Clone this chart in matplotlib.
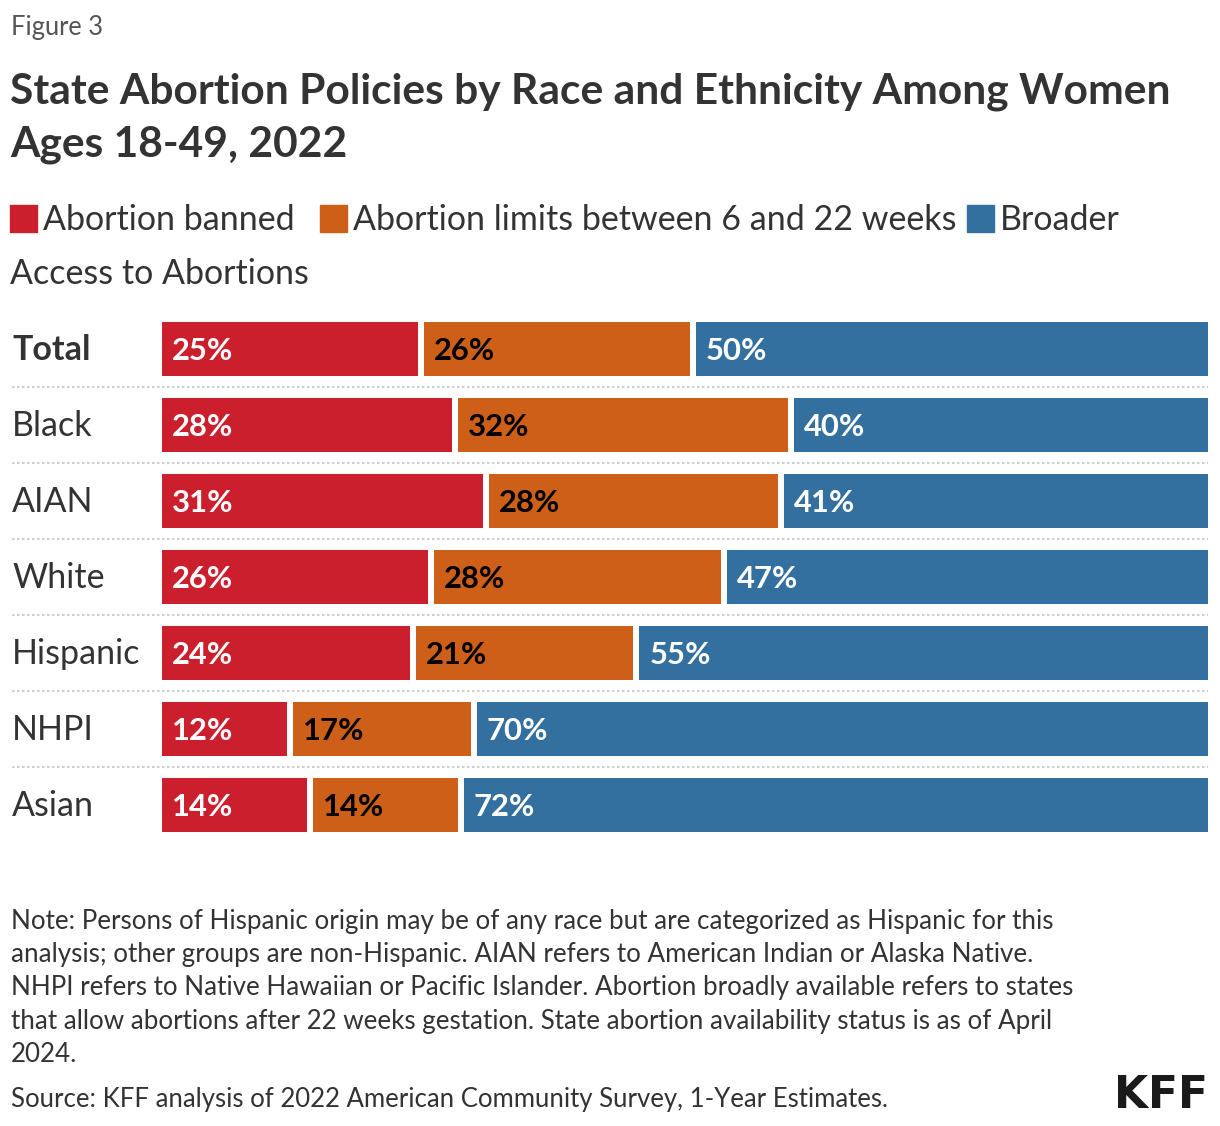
import matplotlib.pyplot as plt

plt.rcParams['font.family'] = ['Lato', 'DejaVu Sans']

groups = ['Total', 'Black', 'AIAN', 'White', 'Hispanic', 'NHPI', 'Asian']
banned = [25, 28, 31, 26, 24, 12, 14]
limits = [26, 32, 28, 28, 21, 17, 14]
broader = [50, 40, 41, 47, 55, 70, 72]

legend_labels = ['Abortion banned', 'Abortion limits between 6 and 22 weeks', 'Broader']
colors = ['#cc1f2e', '#cd5f19', '#34709f']
label_colors = ['white', 'black', 'white']

W, H = 1220, 1126
fig = plt.figure(figsize=(W / 100, H / 100), dpi=100)

def fx(px):
    return px / W

def fy(py):
    return 1 - py / H

def pt(px):
    return px * 0.72

grey = '#333333'

# header
fig.text(fx(11), fy(27), 'Figure 3', fontsize=pt(25.5), color='#555555', va='center')
fig.text(fx(10), fy(92), 'State Abortion Policies by Race and Ethnicity Among Women',
         fontsize=pt(42.5), fontweight='bold', color=grey, va='center')
fig.text(fx(10), fy(145), 'Ages 18-49, 2022', fontsize=pt(42.5), fontweight='bold', color=grey, va='center')

# legend
leg_x = [10, 320, 967]
for x, c, lab in zip(leg_x, colors, legend_labels):
    fig.patches.append(plt.Rectangle((fx(x), fy(232)), fx(27), 27 / H, color=c,
                                     transform=fig.transFigure, figure=fig))
    fig.text(fx(x + 33), fy(220), lab, fontsize=pt(34), color=grey, va='center')
fig.text(fx(10), fy(274), 'Access to Abortions', fontsize=pt(34), color=grey, va='center')

# bars
ax = fig.add_axes([fx(162), fy(843), fx(1208 - 162), 532 / H])
ax.set_xlim(0, 100)
ax.set_ylim(len(groups) - 0.5, -0.5)
ax.axis('off')

gap = 6 / 1046 * 100
for i, g in enumerate(groups):
    vals = [banned[i], limits[i], broader[i]]
    scale = (100 - 2 * gap) / sum(vals)
    left = 0
    for j, v in enumerate(vals):
        w = v * scale
        ax.barh(i, w, left=left, height=54 / 76, color=colors[j])
        ax.text(left + 10 / 1046 * 100, i + 0.02, f'{v}%', color=label_colors[j], fontsize=pt(31),
                fontweight='bold', va='center', ha='left')
        left += w + gap
    fig.text(fx(12), fy(350 + 76 * i), g, fontsize=pt(34), color=grey, va='center',
             fontweight='bold' if g == 'Total' else 'normal')
    if i > 0:
        y = fy(349 + 76 * i - 38)
        fig.add_artist(plt.Line2D([fx(12), fx(1208)], [y, y], color='#d0d0d0', lw=1.5,
                                  linestyle=(0, (1.2, 1.2))))

# notes
notes = ['Note: Persons of Hispanic origin may be of any race but are categorized as Hispanic for this',
         'analysis; other groups are non-Hispanic. AIAN refers to American Indian or Alaska Native.',
         'NHPI refers to Native Hawaiian or Pacific Islander. Abortion broadly available refers to states',
         'that allow abortions after 22 weeks gestation. State abortion availability status is as of April',
         '2024.']
for k, line in enumerate(notes):
    fig.text(fx(11), fy(921 + 33.5 * k), line, fontsize=pt(26), color=grey, va='center')
fig.text(fx(11), fy(1099), 'Source: KFF analysis of 2022 American Community Survey, 1-Year Estimates.',
         fontsize=pt(25.8), color=grey, va='center')
fig.text(fx(1208), fy(1095), 'KFF', fontsize=pt(44), fontweight='heavy', color='#1a1a1a',
         va='center', ha='right', family=['DejaVu Sans'])

fig.savefig('out.png', dpi=100)
